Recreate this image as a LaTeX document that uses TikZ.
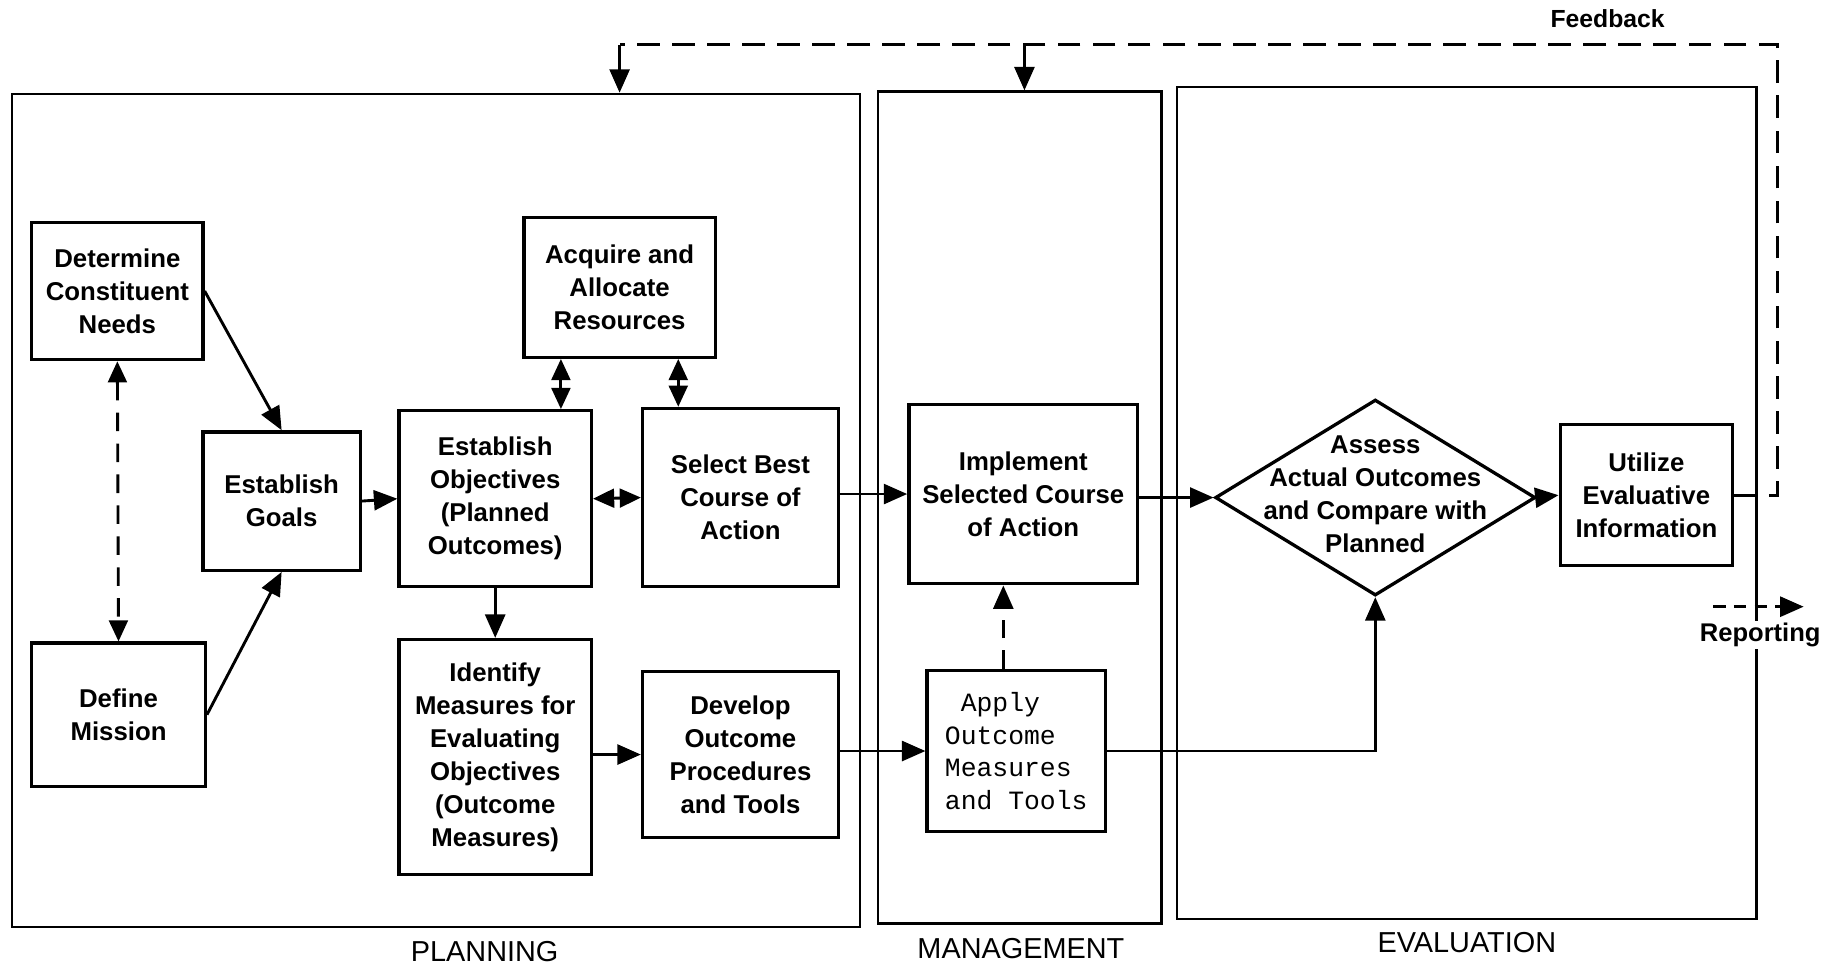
\documentclass[tikz,border=0pt]{standalone}
\usepackage{fontspec}
\setmainfont{Liberation Sans}
\newfontfamily\monof{Liberation Mono}
\usetikzlibrary{arrows.meta,shapes.geometric}
\begin{document}
\begin{tikzpicture}[x=0.02cm,y=-0.02cm,
  box/.style={draw, line width=1.6pt, align=center, font=\fontsize{12.5}{16}\selectfont\bfseries, inner sep=2pt},
  panel/.style={draw, line width=1.2pt},
  plabel/.style={font=\fontsize{14}{16}\selectfont},
  conn/.style={line width=1.4pt, -{Triangle[length=4mm,width=3.4mm]}},
  biconn/.style={line width=1.4pt, {Triangle[length=3.6mm,width=3.2mm]}-{Triangle[length=3.6mm,width=3.2mm]}},
  dashline/.style={line width=1.4pt, dash pattern=on 11pt off 6pt},
  shortdash/.style={dash pattern=on 6pt off 4pt},
]
\useasboundingbox (0,0) rectangle (1568,824);

% panels
\node[panel, minimum width=14.46cm, minimum height=14.2cm] (plan) at (371.5,435) {};
\node[panel, minimum width=4.84cm, minimum height=14.18cm] (mgmt) at (869,432.5) {};
\node[panel, minimum width=9.88cm, minimum height=14.18cm] (eval) at (1250,428.5) {};
\node[plabel] (lplan) at (413,811) {PLANNING};
\node[plabel] (lmgmt) at (870,808) {MANAGEMENT};
\node[plabel] (leval) at (1250,803) {EVALUATION};

% boxes
\node[box, minimum width=2.92cm, minimum height=2.34cm] (det) at (100,248) {Determine\\Constituent\\Needs};
\node[box, minimum width=2.96cm, minimum height=2.44cm] (mission) at (101,609) {Define\\Mission};
\node[box, minimum width=2.68cm, minimum height=2.36cm] (goals) at (240,427) {Establish\\Goals};
\node[box, minimum width=3.28cm, minimum height=3.0cm] (obj) at (422,425) {Establish\\Objectives\\(Planned\\Outcomes)};
\node[box, minimum width=3.26cm, minimum height=2.38cm] (acq) at (528,245) {Acquire and\\Allocate\\Resources};
\node[box, minimum width=3.34cm, minimum height=3.04cm] (sel) at (631,424) {Select Best\\Course of\\Action};
\node[box, minimum width=3.28cm, minimum height=4.0cm] (ident) at (422,645) {Identify\\Measures for\\Evaluating\\Objectives\\(Outcome\\Measures)};
\node[box, minimum width=3.34cm, minimum height=2.84cm] (dev) at (631,643) {Develop\\Outcome\\Procedures\\and Tools};
\node[box, minimum width=3.9cm, minimum height=3.06cm] (impl) at (872,421) {Implement\\Selected Course\\of Action};
\node[box, minimum width=3.04cm, minimum height=2.74cm, align=left, font=\monof\fontsize{12.8}{15.8}\selectfont] (apply) at (866,640) {\phantom{A}Apply\\Outcome\\Measures\\and Tools};
\node[diamond, draw, line width=1.6pt, minimum width=5.46cm, minimum height=3.34cm, inner sep=0pt] (assess) at (1172,424) {};
\node[box, draw=none] (assesstext) at (1172,421) {Assess\\Actual Outcomes\\and Compare with\\Planned};
\node[box, minimum width=2.94cm, minimum height=2.4cm] (util) at (1403,422) {Utilize\\Evaluative\\Information};

% connectors
\draw[conn] (det.east) -- (goals.north);
\draw[conn] (mission.east) -- (goals.south);
\draw[biconn, dash pattern=on 9pt off 6pt] (det.south) -- (mission.north);
\draw[conn] (goals.east) -- (obj.west);
\draw[biconn] (obj.east) -- (sel.west);
\draw[biconn] (478,0 |- acq.south) -- (478,0 |- obj.north);
\draw[biconn] (578,0 |- acq.south) -- (578,0 |- sel.north);
\draw[conn] (obj.south) -- (ident.north);
\draw[conn] (dev.west -| ident.east) -- (dev.west);
\draw[conn] (impl.west -| sel.east) -- (impl.west);
\draw[conn] (apply.west -| dev.east) -- (apply.west);
\draw[conn, dash pattern=on 9pt off 6pt] (855,0 |- apply.north) -- (855,0 |- impl.south);
\draw[conn] (assess.west -| impl.east) -- (assess.west);
\draw[conn] (apply.east) -- (apply.east -| assess.south) -- (assess.south);
\draw[conn] (assess.east) -- (util.west);

% feedback
\coordinate (fbR) at (1515,38);
\coordinate (fbL) at (528,38);
\coordinate (fbM) at (873,38);
\draw[dashline] (util.east) -- (fbR |- util.east) -- (fbR) -- (fbL);
\draw[conn] (fbL) -- (fbL |- plan.north);
\draw[conn] (fbM) -- (fbM |- mgmt.north);
\node[font=\fontsize{12}{14}\selectfont\bfseries] (fblab) at (1370,16) {Feedback};

% reporting
\node[font=\fontsize{12.4}{14}\selectfont\bfseries, fill=white, inner sep=1pt] (replab) at (1500,541) {Reporting};
\coordinate (rep1) at (1460,517);
\coordinate (rep2) at (1537,517);
\draw[conn, shortdash] (rep1) -- (rep2);
\end{tikzpicture}
\end{document}
